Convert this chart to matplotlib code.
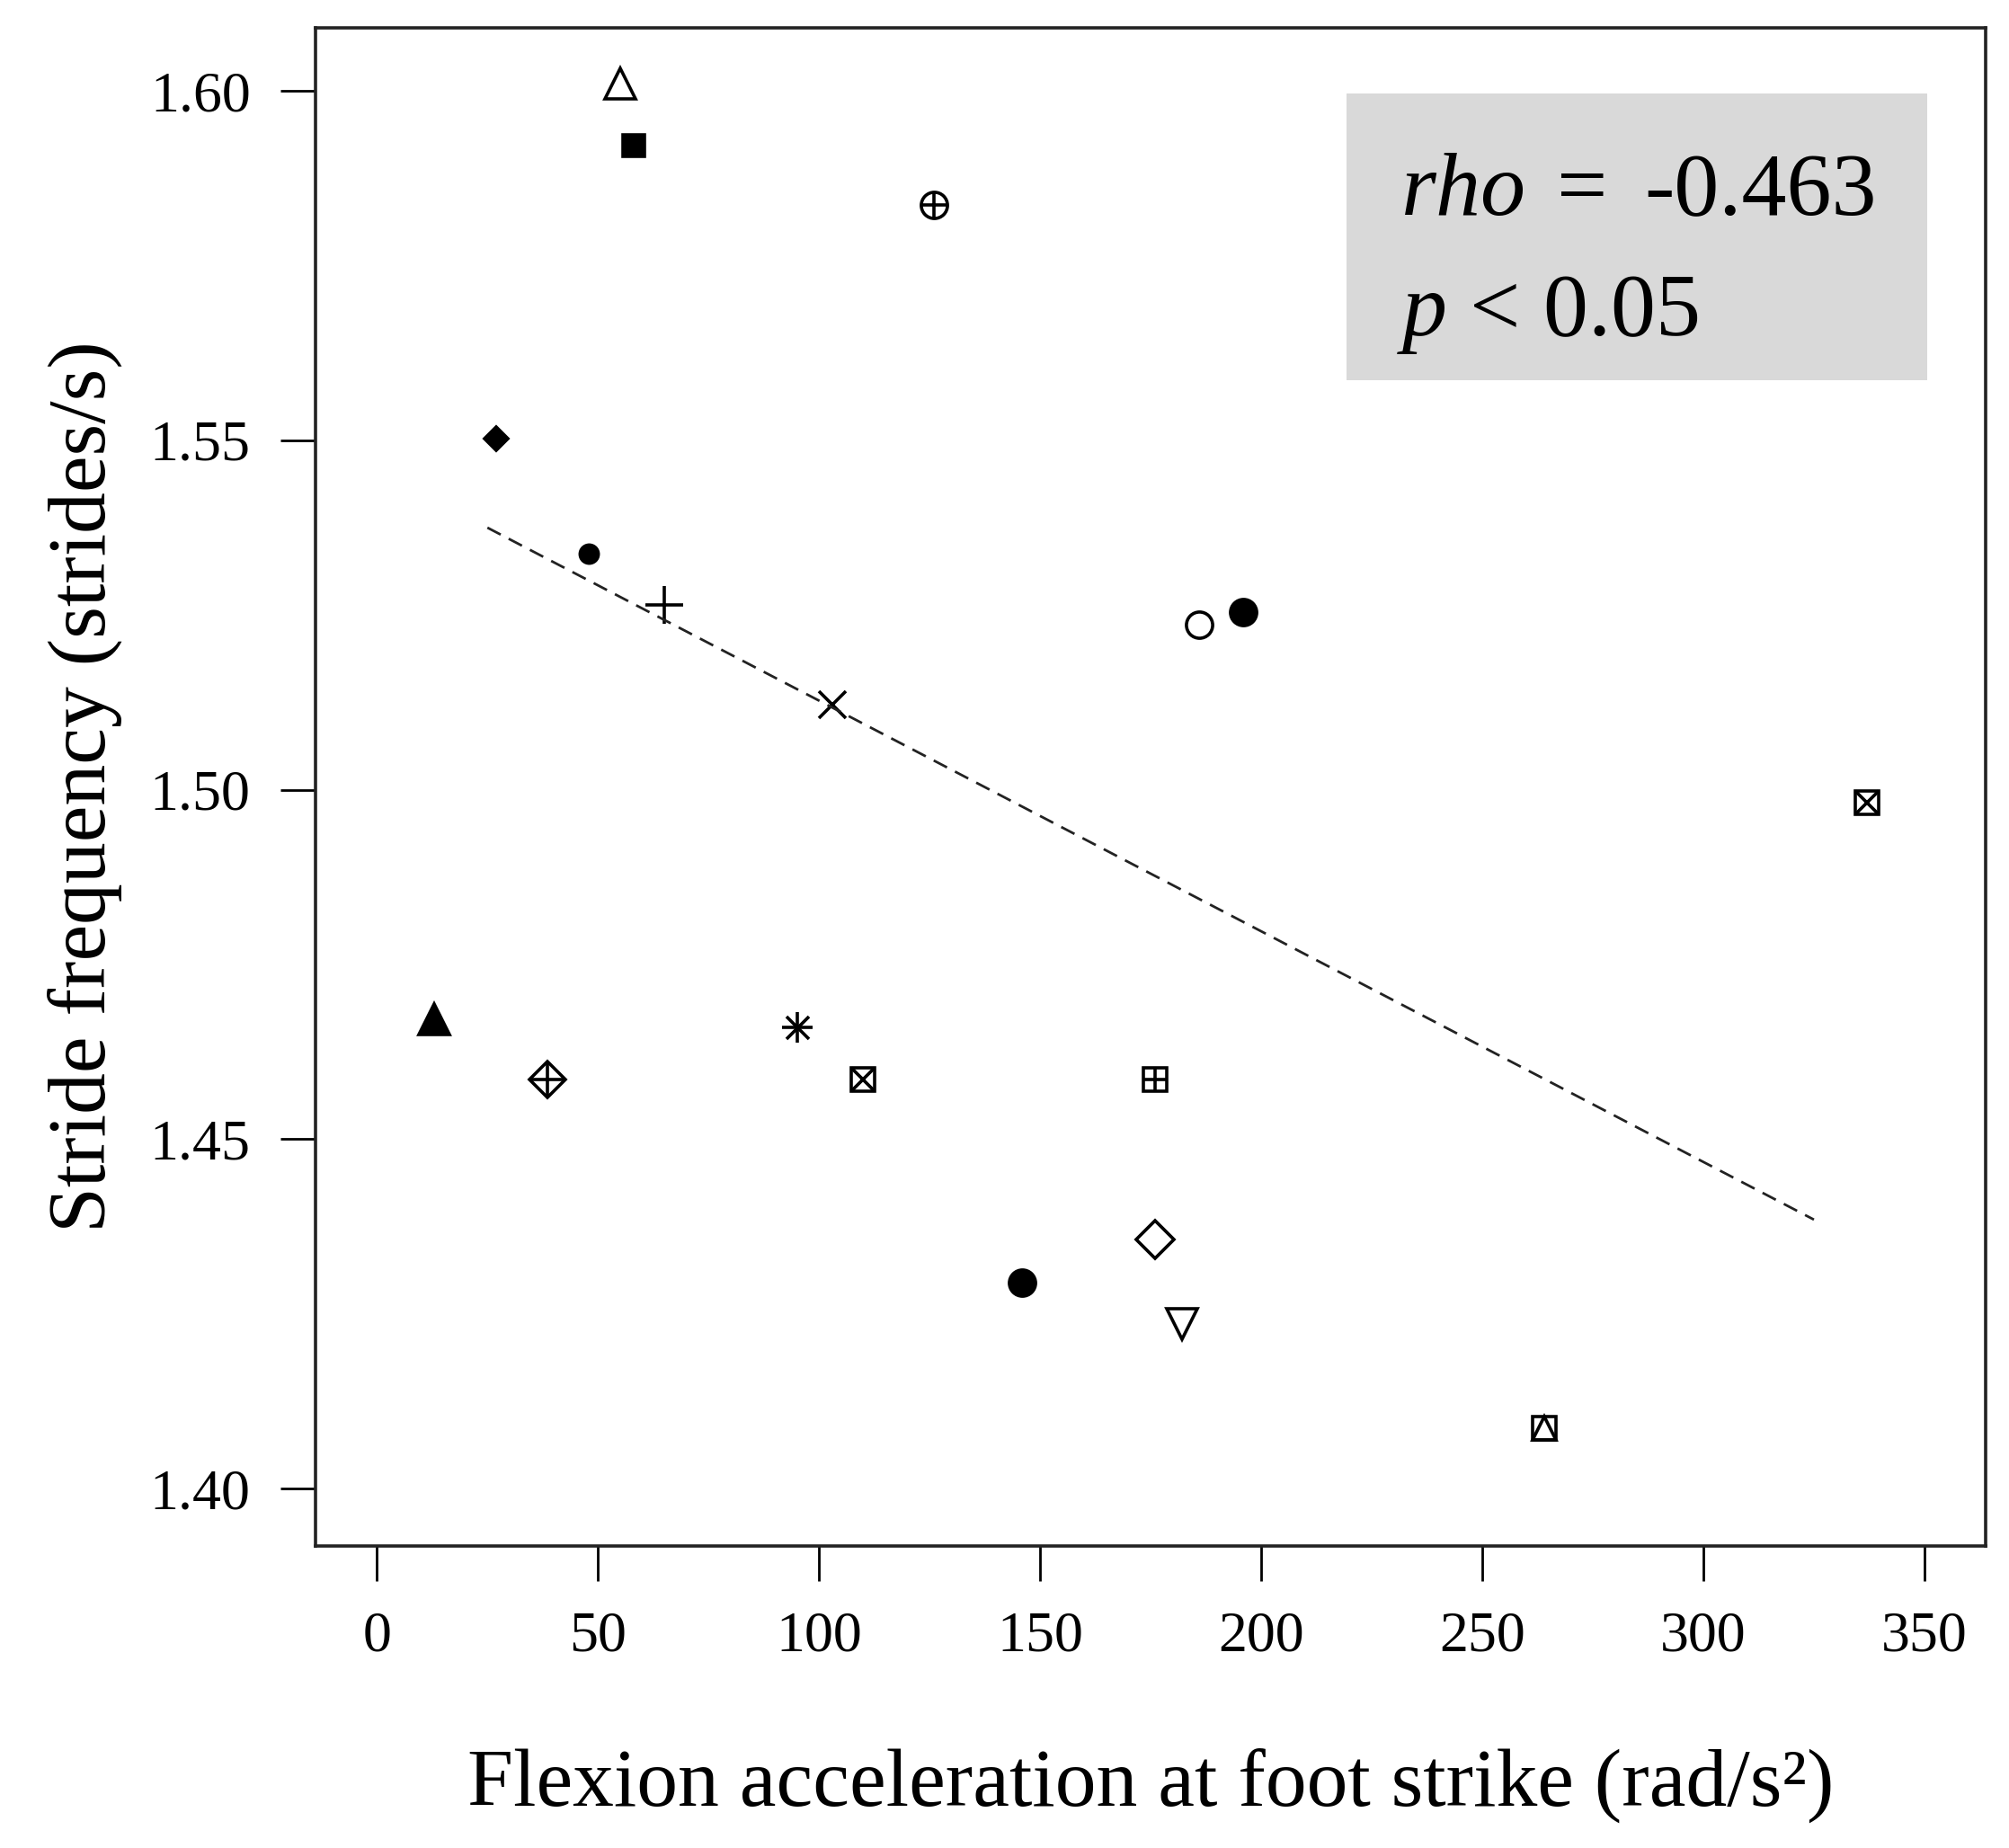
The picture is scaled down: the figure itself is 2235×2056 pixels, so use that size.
import matplotlib

matplotlib.use("Agg")
import matplotlib.pyplot as plt
from matplotlib.patches import Rectangle

plt.rcParams["font.family"] = ["Liberation Serif", "DejaVu Serif"]
plt.rcParams["mathtext.fontset"] = "custom"
plt.rcParams["mathtext.rm"] = "Liberation Serif"
plt.rcParams["mathtext.it"] = "Liberation Serif:italic"

# values
accel = [55, 58, 126, 27, 48, 65, 103, 186, 196, 337,
         13, 38.5, 95, 110, 176, 176, 146, 182, 264]
stride_freq = [1.6010, 1.5921, 1.5837, 1.5503, 1.5338, 1.5265, 1.5122, 1.5236, 1.5254, 1.4981,
               1.4672, 1.4585, 1.4660, 1.4585, 1.4585, 1.4357, 1.4295, 1.4236, 1.4086]
# R-style plotting symbol per subject
pch = [2, 15, 10, 18, 20, 3, 4, 1, 16, 7,
       17, 9, 8, 7, 12, 5, 19, 6, 14]

fit_x = [25, 325]
fit_y = [1.5375, 1.4385]

x_ticks = [0, 50, 100, 150, 200, 250, 300, 350]
y_ticks = [1.40, 1.45, 1.50, 1.55, 1.60]

# pch -> list of (marker, size, filled) layers
SYMBOLS = {
    1: [("o", 10.5, False)],
    2: [("^", 12.5, False)],
    3: [("+", 15, False)],
    4: [("x", 10.5, False)],
    5: [("D", 10.5, False)],
    6: [("v", 12.5, False)],
    7: [("s", 9.5, False), ("x", 9.5, False)],
    8: [("+", 12.5, False), ("x", 9.0, False)],
    9: [("D", 10.0, False), ("+", 14.0, False)],
    10: [("o", 10.5, False), ("+", 10.5, False)],
    12: [("s", 9.5, False), ("+", 9.5, False)],
    14: [("s", 9.5, False), ("^", 9.5, False)],
    15: [("s", 8.5, True)],
    16: [("o", 10.5, True)],
    17: [("^", 12.0, True)],
    18: [("D", 6.5, True)],
    19: [("o", 10.5, True)],
    20: [("o", 7.3, True)],
}

fig = plt.figure(figsize=(11.175, 10.28), dpi=200)
ax = fig.add_axes([0.157, 0.1634, 0.8313, 0.8215])

for xv, yv, code in zip(accel, stride_freq, pch):
    for marker, size, filled in SYMBOLS[code]:
        ax.plot(xv, yv, linestyle="none", marker=marker, markersize=size,
                markerfacecolor="black" if filled else "none",
                markeredgecolor="black", markeredgewidth=1.3)

ax.plot(fit_x, fit_y, color="#222222", linewidth=1.0, dashes=(6, 3.6))

# stats box
ax.add_patch(Rectangle((0.6173, 0.7679), 0.3477, 0.1889, transform=ax.transAxes,
                       facecolor="#d9d9d9", edgecolor="none", zorder=0))
ax.text(0.6496, 0.8768, "$rho$", transform=ax.transAxes, fontsize=36,
        ha="left", va="baseline")
ax.text(0.7433, 0.8768, "=", transform=ax.transAxes, fontsize=36,
        ha="left", va="baseline")
ax.text(0.7955, 0.8768, "-0.463", transform=ax.transAxes, fontsize=36,
        ha="left", va="baseline")
ax.text(0.6474, 0.7975, "$p$ < 0.05", transform=ax.transAxes, fontsize=36,
        ha="left", va="baseline")

ax.set_xlim(-13.9, 363.8)
ax.set_ylim(1.3918, 1.609)
ax.set_xticks(x_ticks)
ax.set_xticklabels([str(t) for t in x_ticks])
ax.set_yticks(y_ticks)
ax.set_yticklabels([f"{t:.2f}" for t in y_ticks])
ax.tick_params(direction="out", length=14, width=1.0, pad=12, labelsize=23, colors="black")
for spine in ax.spines.values():
    spine.set_linewidth(1.3)
    spine.set_color("#222222")

fig.text(0.5727, 0.034, "Flexion acceleration at foot strike (rad/s\u00b2)",
         fontsize=33, ha="center", va="center")
fig.text(0.042, 0.5744, "Stride frequency (strides/s)", fontsize=33,
         rotation=90, ha="center", va="center")

fig.savefig("out.png", dpi=200)
